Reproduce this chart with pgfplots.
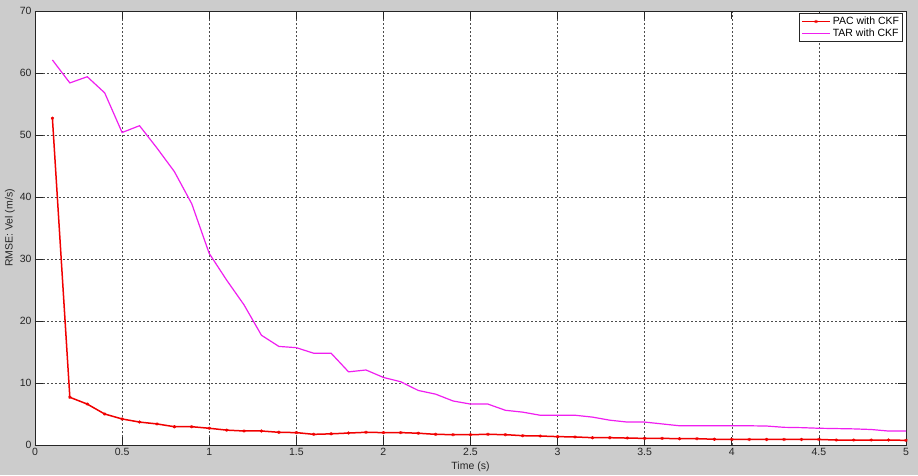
\documentclass[border=0pt]{standalone}
\usepackage{pgfplots}
\pgfplotsset{compat=1.18}
\usepackage{fontspec}
\setmainfont{Liberation Sans}
\definecolor{bg}{RGB}{204,204,204}
\definecolor{mag}{RGB}{240,30,240}
\definecolor{myred}{RGB}{240,0,0}
\begin{document}
\begin{tikzpicture}
\fill[bg] (0pt,0pt) rectangle (918pt,475pt);
\begin{axis}[
  at={(35pt,30pt)}, anchor=south west,
  scale only axis, width=871pt, height=434pt,
  xmin=0, xmax=5, ymin=0, ymax=70,
  xtick={0,0.5,...,5}, ytick={0,10,...,70},
  xticklabels={0,0.5,1,1.5,2,2.5,3,3.5,4,4.5,5},
  /pgf/number format/assume math mode=true,
  tick label style={font=\fontsize{10.5}{12}\selectfont, text=black!85},
  label style={font=\fontsize{10.5}{12}\selectfont, text=black!85},
  axis background/.style={fill=white},
  axis line style={black!85, line width=0.9pt},
  tick align=inside, major tick length=8pt,
  tick style={black!85, line width=0.8pt},
  xtick pos=both, ytick pos=both,
  grid=major,
  major grid style={black!70, line width=0.6pt, dash pattern=on 1.6pt off 2.4pt},
  xlabel={Time (s)}, ylabel={RMSE: Vel (m/s)},
  xlabel style={at={(axis description cs:0.5,-0.0507)}, anchor=center},
  ylabel style={at={(axis description cs:-0.0287,0.5)}, anchor=center},
  legend style={at={(axis description cs:0.9965,0.995)}, anchor=north east,
    draw=black!85, fill=white, font=\fontsize{10.5}{12}\selectfont, line width=0.7pt,
    inner sep=1.5pt, row sep=-1pt},
  legend cell align=left,
  legend image code/.code={\draw[#1] (0pt,0pt) -- (28pt,0pt); \draw[#1, only marks] plot coordinates {(14pt,0pt)};},
]
\addplot[myred, line width=1.5pt, mark=asterisk, mark size=1.6pt, mark options={line width=0.8pt}] coordinates {
(0.1,52.7)(0.2,7.7)(0.3,6.6)(0.4,5.0)(0.5,4.2)(0.6,3.7)(0.7,3.4)(0.8,2.95)(0.9,2.95)(1.0,2.7)
(1.1,2.4)(1.2,2.26)(1.3,2.26)(1.4,2.05)(1.5,2.0)(1.6,1.72)(1.7,1.8)(1.8,1.93)(1.9,2.05)(2.0,2.0)
(2.1,2.0)(2.2,1.9)(2.3,1.72)(2.4,1.67)(2.5,1.67)(2.6,1.72)(2.7,1.67)(2.8,1.5)(2.9,1.45)(3.0,1.35)
(3.1,1.3)(3.2,1.18)(3.3,1.18)(3.4,1.12)(3.5,1.07)(3.6,1.07)(3.7,1.02)(3.8,1.02)(3.9,0.93)(4.0,0.9)
(4.1,0.9)(4.2,0.9)(4.3,0.9)(4.4,0.9)(4.5,0.9)(4.6,0.8)(4.7,0.8)(4.8,0.8)(4.9,0.8)(5.0,0.75)
};
\addlegendentry{PAC with CKF}
\addplot[mag, line width=1.2pt, mark=none] coordinates {
(0.1,62.1)(0.2,58.4)(0.3,59.4)(0.4,56.8)(0.5,50.4)(0.6,51.5)(0.7,47.9)(0.8,44.1)(0.9,38.9)(1.0,30.9)
(1.1,26.6)(1.2,22.6)(1.3,17.7)(1.4,15.9)(1.5,15.7)(1.6,14.8)(1.7,14.8)(1.8,11.8)(1.9,12.1)(2.0,10.9)
(2.1,10.2)(2.2,8.8)(2.3,8.2)(2.4,7.1)(2.5,6.6)(2.6,6.6)(2.7,5.6)(2.8,5.3)(2.9,4.8)(3.0,4.8)
(3.1,4.8)(3.2,4.5)(3.3,4.0)(3.4,3.7)(3.5,3.7)(3.6,3.4)(3.7,3.1)(3.8,3.1)(3.9,3.1)(4.0,3.1)
(4.1,3.1)(4.2,3.06)(4.3,2.85)(4.4,2.8)(4.5,2.7)(4.6,2.65)(4.7,2.6)(4.8,2.5)(4.9,2.25)(5.0,2.25)
};
\addlegendentry{TAR with CKF}
\end{axis}
\pgfresetboundingbox
\path[use as bounding box] (0pt,0pt) rectangle (918pt,475pt);
\end{tikzpicture}
\end{document}
